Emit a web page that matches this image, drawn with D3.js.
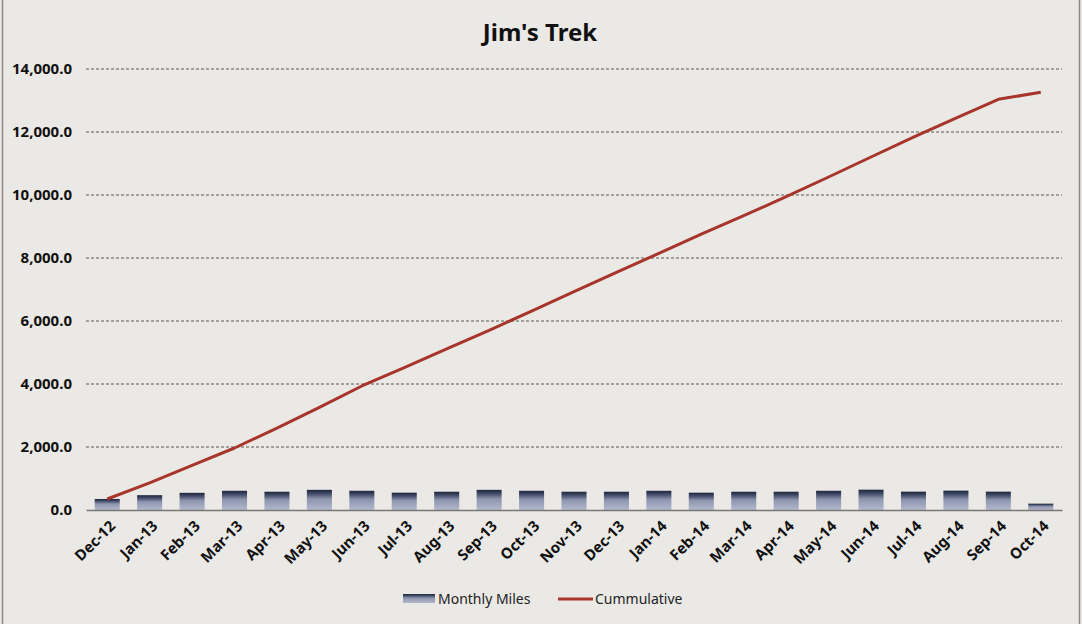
<!DOCTYPE html>
<html>
<head>
<meta charset="utf-8">
<script src="https://cdn.jsdelivr.net/npm/d3@7"></script>
<style>
  body { margin: 0; background: #ebe9e6; }
  svg { display: block; }
</style>
</head>
<body>
<div id="chart"></div>
<script>
// data
var months = ["Dec-12", "Jan-13", "Feb-13", "Mar-13", "Apr-13", "May-13", "Jun-13", "Jul-13",
  "Aug-13", "Sep-13", "Oct-13", "Nov-13", "Dec-13", "Jan-14", "Feb-14", "Mar-14", "Apr-14",
  "May-14", "Jun-14", "Jul-14", "Aug-14", "Sep-14", "Oct-14"];
var monthlyMiles = [350, 470, 545, 610, 580, 640, 610, 550, 580, 640, 610, 580, 580, 610,
  550, 580, 580, 610, 645, 582, 614, 582, 201];
var cumulative = [350, 860, 1420, 1968, 2600, 3260, 3937, 4520, 5117, 5703, 6317, 6930,
  7543, 8148, 8758, 9343, 9946, 10571, 11206, 11835, 12440, 13038, 13260];
var yTicks = [0, 2000, 4000, 6000, 8000, 10000, 12000, 14000];

const width = 1082, height = 624;
const margin = {top: 69, right: 20, bottom: 114, left: 86};
var font = "'Noto Sans', 'Open Sans', sans-serif";

var svg = d3.select("#chart").append("svg")
  .attr("width", width)
  .attr("height", height);

// chart background + border
svg.append("rect")
  .attr("x", 2.5).attr("y", -2)
  .attr("width", 1077).attr("height", height + 4)
  .attr("fill", "#ebe9e6")
  .attr("stroke", "#8a8784")
  .attr("stroke-width", 1.5);

// gradient for the bars
var grad = svg.append("defs").append("linearGradient")
  .attr("id", "barGrad")
  .attr("x1", 0).attr("y1", 0).attr("x2", 0).attr("y2", 1);
grad.append("stop").attr("offset", "0%").attr("stop-color", "#1b233c");
grad.append("stop").attr("offset", "22%").attr("stop-color", "#4a5470");
grad.append("stop").attr("offset", "45%").attr("stop-color", "#8d95ae");
grad.append("stop").attr("offset", "100%").attr("stop-color", "#b3b9cd");

var x_scale = d3.scaleBand()
  .domain(months)
  .range([margin.left, width - margin.right])
  .paddingInner(0.41)
  .paddingOuter(0.205);

var y_scale = d3.scaleLinear()
  .domain([0, 14000])
  .range([height - margin.bottom, margin.top]);

// gridlines
svg.append("g")
  .selectAll("line")
  .data(yTicks.filter(d => d > 0))
  .enter()
  .append("line")
  .attr("x1", margin.left)
  .attr("x2", width - margin.right)
  .attr("y1", d => y_scale(d))
  .attr("y2", d => y_scale(d))
  .attr("stroke", "#5a5856")
  .attr("stroke-width", 1)
  .attr("stroke-dasharray", "3,2");

// y axis (labels only)
var y_axis = svg.append("g")
  .attr("transform", "translate(" + margin.left + ",0)")
  .call(d3.axisLeft(y_scale).tickValues(yTicks).tickFormat(d3.format(",.1f")).tickSize(0).tickPadding(14));
y_axis.select(".domain").remove();
y_axis.selectAll("text")
  .style("font-family", font)
  .style("font-size", "15px")
  .style("font-weight", "bold")
  .attr("fill", "#111");

// bars
svg.selectAll("rect.bar")
  .data(monthlyMiles)
  .enter()
  .append("rect")
  .attr("class", "bar")
  .attr("x", (d, i) => x_scale(months[i]))
  .attr("width", x_scale.bandwidth())
  .attr("y", d => y_scale(d))
  .attr("height", d => y_scale(0) - y_scale(d))
  .attr("fill", "url(#barGrad)");

// x axis
var x_axis = svg.append("g")
  .attr("transform", "translate(0," + y_scale(0) + ")")
  .call(d3.axisBottom(x_scale).tickSize(0).tickPadding(0));
x_axis.select(".domain")
  .attr("stroke", "#7a7876")
  .attr("stroke-width", 1.5);
x_axis.selectAll("text")
  .style("font-family", font)
  .style("font-size", "15px")
  .style("font-weight", "bold")
  .attr("fill", "#111")
  .attr("text-anchor", "end")
  .attr("dy", 0)
  .attr("transform", "translate(9,17) rotate(-45)");

// cumulative line
var line = d3.line()
  .x((d, i) => x_scale(months[i]) + x_scale.bandwidth() / 2)
  .y(d => y_scale(d));

svg.append("path")
  .datum(cumulative)
  .attr("d", line)
  .attr("fill", "none")
  .attr("stroke", "#a8352c")
  .attr("stroke-width", 3)
  .attr("stroke-linejoin", "round");

// title
svg.append("text")
  .attr("x", 540).attr("y", 41)
  .attr("text-anchor", "middle")
  .style("font-family", font)
  .style("font-size", "24px")
  .style("font-weight", "bold")
  .attr("fill", "#111")
  .text("Jim's Trek");

// legend
var legend = svg.append("g").style("font-family", font).style("font-size", "14px");
legend.append("rect").attr("x", 403).attr("y", 594).attr("width", 32).attr("height", 9).attr("fill", "url(#barGrad)");
legend.append("text").attr("x", 438).attr("y", 604).attr("fill", "#222").text("Monthly Miles");
legend.append("line").attr("x1", 558).attr("x2", 593).attr("y1", 599).attr("y2", 599)
  .attr("stroke", "#a8352c").attr("stroke-width", 3);
legend.append("text").attr("x", 595).attr("y", 604).attr("fill", "#222").text("Cummulative");
</script>
</body>
</html>
